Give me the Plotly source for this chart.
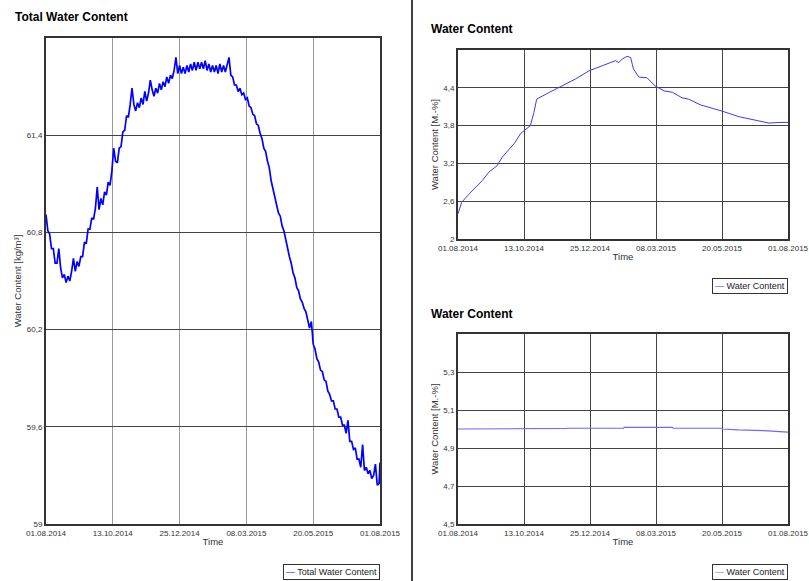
import datetime as dt
import plotly.graph_objects as go

W, H = 809, 581
BASE = dt.date(2014, 8, 1)

# ---------------- data ----------------
left_days = list(range(0, 366, 2)) + [365]
left_vals = [
    60.91, 60.81, 60.79, 60.70, 60.70, 60.61, 60.61, 60.70, 60.58, 60.52,
    60.54, 60.49, 60.53, 60.50, 60.56, 60.64, 60.56, 60.62, 60.59, 60.65,
    60.65, 60.74, 60.73, 60.82, 60.82, 60.89, 60.88, 60.95, 61.08, 60.94,
    61.01, 60.97, 61.05, 61.03, 61.11, 61.09, 61.18, 61.32, 61.24, 61.23,
    61.32, 61.33, 61.42, 61.43, 61.52, 61.51, 61.59, 61.69, 61.59, 61.55,
    61.60, 61.57, 61.63, 61.59, 61.67, 61.61, 61.66, 61.74, 61.68, 61.64,
    61.69, 61.66, 61.72, 61.68, 61.73, 61.70, 61.76, 61.72, 61.77, 61.75,
    61.80, 61.88, 61.78, 61.83, 61.78, 61.82, 61.78, 61.83, 61.79, 61.84,
    61.80, 61.85, 61.80, 61.85, 61.81, 61.85, 61.81, 61.86, 61.80, 61.84,
    61.79, 61.83, 61.79, 61.83, 61.78, 61.84, 61.79, 61.83, 61.79, 61.84,
    61.88, 61.77, 61.76, 61.71, 61.71, 61.67, 61.69, 61.65, 61.66, 61.62,
    61.63, 61.58, 61.57, 61.53, 61.52, 61.47, 61.46, 61.41, 61.38, 61.32,
    61.30, 61.24, 61.20, 61.12, 61.07, 61.00, 60.97, 60.92, 60.90, 60.84,
    60.81, 60.75, 60.71, 60.65, 60.61, 60.55, 60.52, 60.46, 60.44, 60.39,
    60.37, 60.33, 60.31, 60.25, 60.21, 60.25, 60.11, 60.08, 60.02, 60.00,
    59.95, 59.94, 59.89, 59.88, 59.82, 59.80, 59.76, 59.76, 59.71, 59.71,
    59.66, 59.66, 59.61, 59.61, 59.56, 59.64, 59.51, 59.51, 59.46, 59.47,
    59.40, 59.40, 59.35, 59.49, 59.33, 59.35, 59.31, 59.33, 59.28, 59.30,
    59.37, 59.24, 59.25, 59.38,
]

tr_days = [0, 4, 12, 19, 27, 34, 43, 49, 58, 63, 69, 75, 80, 84, 87, 100, 115,
           130, 145, 159, 174, 178, 181, 187, 191, 194, 200, 209, 218, 228, 237,
           248, 255, 268, 281, 292, 311, 329, 344, 355, 365]
tr_vals = [2.40, 2.58, 2.71, 2.82, 2.93, 3.06, 3.16, 3.30, 3.46, 3.53, 3.67,
           3.74, 3.80, 4.01, 4.22, 4.32, 4.43, 4.54, 4.67, 4.75, 4.83, 4.80,
           4.85, 4.90, 4.88, 4.70, 4.57, 4.56, 4.43, 4.35, 4.33, 4.24, 4.22,
           4.13, 4.08, 4.03, 3.94, 3.89, 3.84, 3.85, 3.85]

br_days = [0, 60, 61, 120, 121, 183, 184, 237, 238, 292, 293, 310, 338, 365]
br_vals = [5.000, 5.000, 5.003, 5.003, 5.004, 5.004, 5.009, 5.009, 5.004,
           5.004, 5.000, 4.995, 4.991, 4.984]

x_tick_dates = ["2014-08-01", "2014-10-13", "2014-12-25",
                "2015-03-08", "2015-05-20", "2015-08-01"]
x_tick_text = ["01.08.2014", "13.10.2014", "25.12.2014",
               "08.03.2015", "20.05.2015", "01.08.2015"]

left_yticks = [59, 59.6, 60.2, 60.8, 61.4]
left_ytext = ["59", "59,6", "60,2", "60,8", "61,4"]
tr_yticks = [2, 2.6, 3.2, 3.8, 4.4]
tr_ytext = ["2", "2,6", "3,2", "3,8", "4,4"]
br_yticks = [4.5, 4.7, 4.9, 5.1, 5.3]
br_ytext = ["4,5", "4,7", "4,9", "5,1", "5,3"]

series_names = ["Total Water Content", "Water Content", "Water Content"]
series_colors = ["#0000ff", "#3a3aff", "#6a6aff"]


def to_dates(days):
    return [(BASE + dt.timedelta(days=d)).isoformat() for d in days]


def px_x(p):
    return p / W


def px_y(p):
    return 1 - p / H


FONT = "Liberation Sans, Arial, sans-serif"

fig = go.Figure()
fig.add_trace(go.Scatter(x=to_dates(left_days), y=left_vals, mode="lines",
                         name=series_names[0],
                         line=dict(color=series_colors[0], width=1.7),
                         xaxis="x", yaxis="y"))
fig.add_trace(go.Scatter(x=to_dates(tr_days), y=tr_vals, mode="lines",
                         name=series_names[1],
                         line=dict(color=series_colors[1], width=1),
                         xaxis="x2", yaxis="y2"))
fig.add_trace(go.Scatter(x=to_dates(br_days), y=br_vals, mode="lines",
                         name=series_names[2],
                         line=dict(color=series_colors[2], width=1.2),
                         xaxis="x3", yaxis="y3"))

tickfont = dict(family=FONT, size=8, color="#333333")
titlefont = dict(family=FONT, size=9.5, color="#333333")


def xaxis(domain, anchor, vgrid):
    return dict(domain=domain, anchor=anchor, type="date",
                range=["2014-08-01", "2015-08-01"],
                tickvals=x_tick_dates, ticktext=x_tick_text,
                tickfont=tickfont, ticks="", showgrid=True,
                gridcolor=vgrid, gridwidth=1,
                showline=True, mirror=True, linecolor="#333333", linewidth=2,
                title=dict(text="Time", font=dict(family=FONT, size=9.5,
                                                   color="#333333"),
                           standoff=2),
                automargin=False, zeroline=False, fixedrange=True)


def yaxis(domain, anchor, rng, tv, tt, title):
    return dict(domain=domain, anchor=anchor, range=rng, tickvals=tv,
                ticktext=tt, tickfont=tickfont, ticks="", showgrid=True,
                gridcolor="#444444", gridwidth=1,
                showline=True, mirror=True, linecolor="#333333", linewidth=2,
                title=dict(text=title, font=titlefont, standoff=3),
                automargin=False, zeroline=False, fixedrange=True)


L_x = [px_x(46), px_x(380)]
L_y = [px_y(524), px_y(38)]
R_x = [px_x(458), px_x(788)]
RT_y = [px_y(239), px_y(50)]
RB_y = [px_y(524), px_y(334)]


def legend_box(i, right_px, top_px):
    return dict(
        text='<span style="color:%s">—</span> %s' % (series_colors[i],
                                                     series_names[i]),
        xref="paper", yref="paper", x=px_x(right_px), y=px_y(top_px),
        xanchor="right", yanchor="top", showarrow=False,
        bordercolor="#333333", borderwidth=1, borderpad=2, bgcolor="white",
        font=dict(family=FONT, size=9, color="#222222"))


fig.update_layout(
    width=W, height=H, margin=dict(l=0, r=0, t=0, b=0),
    paper_bgcolor="white", plot_bgcolor="white",
    font=dict(family=FONT),
    showlegend=False,
    xaxis=xaxis(L_x, "y", "#999999"),
    yaxis=yaxis(L_y, "x", [59, 62], left_yticks, left_ytext,
                "Water Content [kg/m³]"),
    xaxis2=xaxis(R_x, "y2", "#444444"),
    yaxis2=yaxis(RT_y, "x2", [2, 5], tr_yticks, tr_ytext,
                 "Water Content [M.-%]"),
    xaxis3=xaxis(R_x, "y3", "#444444"),
    yaxis3=yaxis(RB_y, "x3", [4.5, 5.5], br_yticks, br_ytext,
                 "Water Content [M.-%]"),
    shapes=[dict(type="line", xref="paper", yref="paper",
                 x0=px_x(412), x1=px_x(412), y0=0, y1=1,
                 line=dict(color="black", width=1.5))],
    annotations=[
        dict(text="<b>Total Water Content</b>", xref="paper", yref="paper",
             x=px_x(13), y=px_y(17), xanchor="left", yanchor="middle",
             showarrow=False, font=dict(family=FONT, size=12, color="black")),
        dict(text="<b>Water Content</b>", xref="paper", yref="paper",
             x=px_x(429), y=px_y(29), xanchor="left", yanchor="middle",
             showarrow=False, font=dict(family=FONT, size=12, color="black")),
        dict(text="<b>Water Content</b>", xref="paper", yref="paper",
             x=px_x(429), y=px_y(314), xanchor="left", yanchor="middle",
             showarrow=False, font=dict(family=FONT, size=12, color="black")),
        legend_box(0, 380, 564),
        legend_box(1, 788, 278),
        legend_box(2, 788, 564),
    ],
)

fig.write_html("out.html",
               config={"displayModeBar": False},
               post_script="document.body.style.margin='0px';")
